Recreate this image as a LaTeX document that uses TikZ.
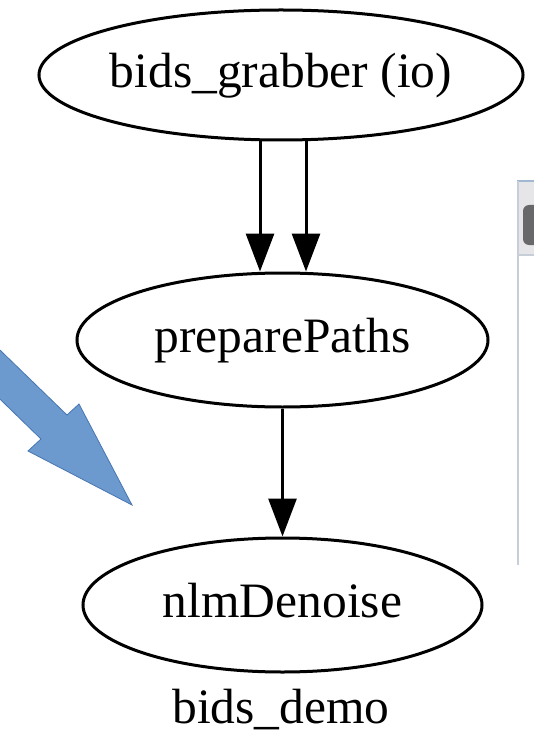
\documentclass[tikz,border=0pt]{standalone}
\usepackage{fontspec}
\setmainfont{Liberation Serif}
\usetikzlibrary{shapes.geometric,arrows.meta}
\definecolor{arrowblue}{RGB}{108,153,206}
\definecolor{arrowline}{RGB}{72,118,178}
\definecolor{panelgray}{RGB}{230,230,232}
\definecolor{paneledge}{RGB}{200,206,216}
\definecolor{panelblue}{RGB}{160,184,210}
\definecolor{buttongray}{RGB}{104,104,106}
\begin{document}
\begin{tikzpicture}[x=1pt,y=-1pt]
	\tikzstyle{process}=[ellipse,draw=black,line width=3pt,inner sep=0pt,
		font=\fontsize{49.5}{55}\selectfont,text height=35pt,text depth=10pt]
	\tikzstyle{edge}=[draw,line width=3pt,-{Triangle[width=28pt,length=38pt]}]
	\clip (0,0) rectangle (534,735);
	\fill[white] (0,0) rectangle (534,735);

	% window behind the graph
	\fill[panelgray] (517,181) rectangle (540,255);
	\draw[panelblue,line width=1.5pt] (517,181) -- (540,181);
	\fill[buttongray,rounded corners=6pt] (523,205) rectangle (545,245);
	\draw[paneledge,line width=1.5pt] (517,255) -- (540,255);
	\draw[paneledge,line width=2pt] (517.5,181) -- (517.5,565);

	% big blue arrow
	\filldraw[fill=arrowblue,draw=arrowline,line width=0.8pt]
		(-30,321) -- (67,415) -- (79,404) -- (132,505) -- (28,451) -- (41,439) -- (-30,370) -- cycle;

	\begin{scope}
		\node [process,minimum width=482pt,minimum height=130pt] (p1) at (281,75) {bids\_grabber (io)};
		\node [process,minimum width=411pt,minimum height=134pt] (p2) at (282.5,340) {preparePaths};
		\node [process,minimum width=399pt,minimum height=134pt] (p3) at (282.5,605) {nlmDenoise};
		\node [font=\fontsize{49.5}{55}\selectfont,anchor=base] (title) at (281,723) {bids\_demo};

		\path[edge] ([xshift=-21pt]p1.south) -- ([xshift=-21pt]p1.south |- p2.north);
		\path[edge] ([xshift=25pt]p1.south) -- ([xshift=25pt]p1.south |- p2.north);
		\path[edge] (p2) edge (p3);
	\end{scope}
\end{tikzpicture}
\end{document}
